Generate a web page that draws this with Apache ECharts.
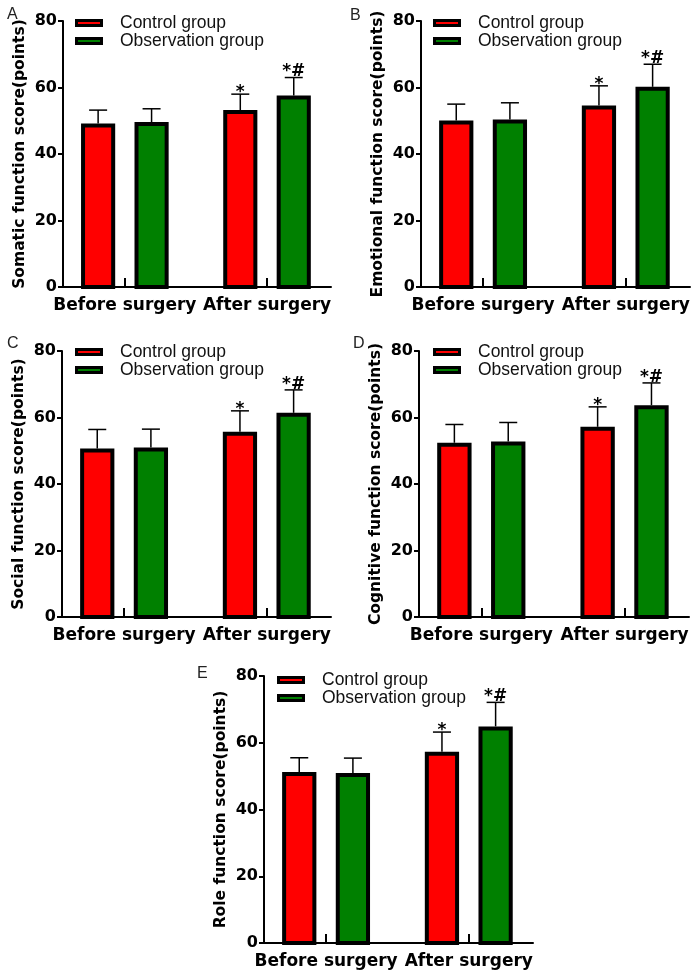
<!DOCTYPE html>
<html>
<head>
<meta charset="utf-8">
<script src="https://cdn.jsdelivr.net/npm/echarts@6/dist/echarts.min.js"></script>
<style>html,body{margin:0;padding:0;background:#fff}#c{width:700px;height:980px}</style>
</head>
<body>
<div id="c"></div>
<script>
// ---- data ----
const categories = ['Before surgery', 'After surgery'];
const seriesNames = ['Control group', 'Observation group'];
const panelLetters = ['A', 'B', 'C', 'D', 'E'];
const yNames = [
  'Somatic function score(points)',
  'Emotional function score(points)',
  'Social function score(points)',
  'Cognitive function score(points)',
  'Role function score(points)'
];
const yMin = 0, yMax = 80, yInterval = 20;

const somaticControl = [48.6, 52.6];
const somaticControlSD = [4.6, 5.4];
const somaticObservation = [49.0, 57.0];
const somaticObservationSD = [4.6, 6.0];

const emotionalControl = [49.5, 54.0];
const emotionalControlSD = [5.5, 6.5];
const emotionalObservation = [49.8, 59.6];
const emotionalObservationSD = [5.6, 7.4];

const socialControl = [50.1, 55.1];
const socialControlSD = [6.3, 6.9];
const socialObservation = [50.4, 60.8];
const socialObservationSD = [6.1, 7.5];

const cognitiveControl = [51.8, 56.6];
const cognitiveControlSD = [6.1, 6.6];
const cognitiveObservation = [52.2, 63.1];
const cognitiveObservationSD = [6.3, 7.3];

const roleControl = [50.6, 56.7];
const roleControlSD = [4.9, 6.5];
const roleObservation = [50.3, 64.3];
const roleObservationSD = [5.1, 7.8];

const controlMarks = ['', '*'];
const observationMarks = ['', '*#'];

const panels = [
  [somaticControl, somaticControlSD, somaticObservation, somaticObservationSD],
  [emotionalControl, emotionalControlSD, emotionalObservation, emotionalObservationSD],
  [socialControl, socialControlSD, socialObservation, socialObservationSD],
  [cognitiveControl, cognitiveControlSD, cognitiveObservation, cognitiveObservationSD],
  [roleControl, roleControlSD, roleObservation, roleObservationSD]
];

// ---- layout / style ----
const grids = [
  {left: 63, top: 21, width: 268, height: 266},
  {left: 421, top: 21, width: 269, height: 266},
  {left: 62, top: 351, width: 269, height: 266},
  {left: 419, top: 351, width: 270, height: 266},
  {left: 264, top: 676, width: 269, height: 267}
];
const legendPos = [[75, 14], [433, 14], [75, 343], [433, 343], [277, 671]];
const letterPos = [[7, 7], [350, 8], [7, 336], [353, 336], [197, 666]];
const colors = ['#ff0000', '#008000'];
const barOffsets = [-0.188, 0.188];
const barWidth = 0.212;
const xMin = -0.435, xMax = 1.45;
const boldFont = 'DejaVu Sans';

function legendIcon(color) {
  const svg = '<svg xmlns="http://www.w3.org/2000/svg" width="28" height="8">' +
    '<rect width="28" height="8" fill="#000"/>' +
    '<rect x="3" y="3" width="22" height="2" fill="' + color + '"/></svg>';
  return 'image://data:image/svg+xml;charset=utf-8,' + encodeURIComponent(svg);
}

function makeRender(color, offset, marks) {
  return function (params, api) {
    const g = api.value(0), v = api.value(1), sd = api.value(2);
    const base = api.coord([g + offset, 0]);
    const top = api.coord([g + offset, v]);
    const cap = api.coord([g + offset, v + sd]);
    const w = api.size([barWidth, 0])[0];
    const mark = marks[params.dataIndex] || '';
    const children = [
      {type: 'rect', shape: {x: top[0] - w / 2, y: top[1], width: w, height: base[1] - top[1]},
       style: {fill: color, stroke: '#000', lineWidth: 4}},
      {type: 'line', shape: {x1: top[0], y1: top[1] - 2, x2: cap[0], y2: cap[1]},
       style: {stroke: '#000', lineWidth: 1.5}},
      {type: 'line', shape: {x1: cap[0] - 9, y1: cap[1], x2: cap[0] + 9, y2: cap[1]},
       style: {stroke: '#000', lineWidth: 1.5}}
    ];
    if (mark) {
      children.push({type: 'text', style: {
        text: mark, x: cap[0], y: cap[1] + (mark.indexOf('#') >= 0 ? 3 : 7),
        align: 'center', verticalAlign: 'bottom',
        font: 'bold 17px "' + boldFont + '"', fill: '#000'}});
    }
    return {type: 'group', children: children};
  };
}

const option = {
  animation: false,
  backgroundColor: '#fff',
  grid: grids.map(g => Object.assign({containLabel: false}, g)),
  xAxis: grids.map((g, i) => ({
    gridIndex: i, type: 'value', min: xMin, max: xMax,
    axisLine: {show: true, onZero: false, lineStyle: {color: '#000', width: 2}},
    splitLine: {show: false},
    axisTick: {show: true, inside: true, length: 9, customValues: [0, 1], lineStyle: {color: '#000', width: 2}},
    axisLabel: {customValues: [0, 1], formatter: v => categories[Math.round(v)], margin: 10,
      color: '#000', fontFamily: boldFont, fontWeight: 'bold', fontSize: 17}
  })),
  yAxis: grids.map((g, i) => ({
    gridIndex: i, type: 'value', min: yMin, max: yMax, interval: yInterval,
    name: yNames[i], nameLocation: 'middle', nameGap: 35, nameRotate: 90,
    nameTextStyle: {color: '#000', fontFamily: boldFont, fontWeight: 'bold', fontSize: 15.5},
    axisLine: {show: true, onZero: false, lineStyle: {color: '#000', width: 2}},
    splitLine: {show: false},
    axisTick: {show: true, inside: false, length: 5, lineStyle: {color: '#000', width: 2}},
    axisLabel: {margin: 6, color: '#000', fontFamily: boldFont, fontWeight: 'bold', fontSize: 16}
  })),
  legend: legendPos.map(p => ({
    left: p[0], top: p[1], orient: 'vertical', itemGap: 0, itemWidth: 28, itemHeight: 8,
    selectedMode: false, padding: 0,
    textStyle: {color: '#111', fontFamily: 'Liberation Sans', fontSize: 17.5, lineHeight: 16, padding: [0, 0, 0, 12]},
    data: seriesNames.map((n, k) => ({name: n, icon: legendIcon(colors[k])}))
  })),
  graphic: panelLetters.map((t, i) => ({
    type: 'text', left: letterPos[i][0], top: letterPos[i][1],
    style: {text: t, font: '16px "Liberation Sans"', fill: '#222'}
  })),
  series: []
};

panels.forEach((p, i) => {
  [0, 1].forEach(k => {
    const means = p[k * 2], sds = p[k * 2 + 1];
    option.series.push({
      type: 'custom', name: seriesNames[k], xAxisIndex: i, yAxisIndex: i,
      itemStyle: {color: colors[k]}, clip: false,
      renderItem: makeRender(colors[k], barOffsets[k], k === 0 ? controlMarks : observationMarks),
      encode: {x: 0, y: 1},
      data: means.map((m, j) => [j, m, sds[j]])
    });
  });
});

const chart = echarts.init(document.getElementById('c'), null, {renderer: 'canvas'});
chart.setOption(option);
</script>
</body>
</html>
